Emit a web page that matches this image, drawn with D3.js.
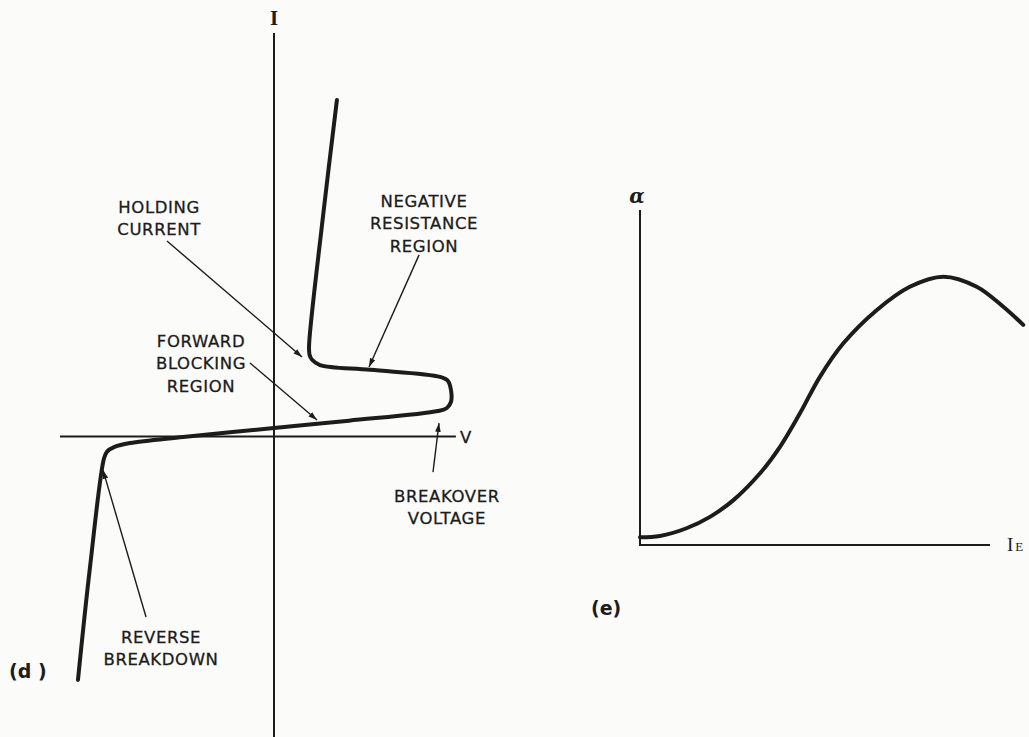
<!DOCTYPE html>
<html>
<head>
<meta charset="utf-8">
<script src="https://cdn.jsdelivr.net/npm/d3@7"></script>
<style>
  body { margin: 0; background: #fbfbfa; }
  svg { display: block; }
  .lbl { font-family: "DejaVu Sans", sans-serif; font-size: 16.5px; letter-spacing: 0.6px; fill: #1c1c1c; stroke: #1c1c1c; stroke-width: 0.3px; }
</style>
</head>
<body>
<svg id="chart"></svg>
<script>
// (d) thyristor I-V curve, V and I in arbitrary units
const thyV = [2.94, 2.3, 1.64, 1.66, 1.78, 2.15, 4.5, 7.76, 8.13, 8.27, 8.27, 8.08, 7.66, 3.5, 0, -4.25, -6.73, -7.45, -7.8, -7.94, -8.6, -9.16];
const thyI = [16.68, 11.0, 4.53, 4.05, 3.8, 3.54, 3.3, 2.95, 2.75, 2.3, 1.71, 1.41, 1.26, 0.78, 0.42, -0.03, -0.33, -0.52, -0.75, -1.07, -6.5, -12.07];

// (e) alpha vs emitter current
const ieVals = [0, 0.57, 1.33, 2.0, 2.67, 3.43, 4.0, 4.57, 5.14, 5.81, 6.76, 7.71, 8.67, 9.62, 10.38, 10.95];
const alphaVals = [0.023, 0.027, 0.05, 0.084, 0.134, 0.214, 0.293, 0.393, 0.502, 0.602, 0.701, 0.771, 0.801, 0.771, 0.711, 0.657];

// annotations on (d): label lines, label anchor, leader start -> arrow tip
const notes = [
  {lines: ["HOLDING", "CURRENT"], at: [-5.37, 11.08], from: [-5.0, 9.69], to: [1.31, 3.94]},
  {lines: ["NEGATIVE", "RESISTANCE", "REGION"], at: [7.01, 11.37], from: [6.78, 9.0], to: [4.44, 3.44]},
  {lines: ["FORWARD", "BLOCKING", "REGION"], at: [-3.41, 4.43], from: [-1.12, 3.64], to: [2.01, 0.81]},
  {lines: ["BREAKOVER", "VOLTAGE"], at: [8.08, -3.25], from: [7.43, -1.77], to: [7.71, 0.66]},
  {lines: ["REVERSE", "BREAKDOWN"], at: [-5.28, -10.24], from: [-5.98, -8.95], to: [-7.99, -1.67]}
];

const W = 1029, H = 737, ink = "#1c1c1c";
const svg = d3.select("#chart").attr("width", W).attr("height", H);

svg.append("defs").append("marker")
    .attr("id", "arrow")
    .attr("viewBox", "0 -4 10 8")
    .attr("refX", 10).attr("refY", 0)
    .attr("markerWidth", 9).attr("markerHeight", 7)
    .attr("markerUnits", "userSpaceOnUse")
    .attr("orient", "auto")
    .append("path")
    .attr("d", "M0,-3.2L10,0L0,3.2Z")
    .attr("fill", ink);

// ---------- panel (d) ----------
const xD = d3.scaleLinear().domain([-10, 10]).range([60, 488]);
const yD = d3.scaleLinear().domain([-15, 20]).range([739, 33]);

const gd = svg.append("g");

// axes
gd.append("line")
    .attr("x1", xD(0)).attr("x2", xD(0))
    .attr("y1", yD(20)).attr("y2", yD(-15))
    .attr("stroke", ink).attr("stroke-width", 2);
gd.append("line")
    .attr("x1", xD(-10)).attr("x2", xD(8.5))
    .attr("y1", yD(0)).attr("y2", yD(0))
    .attr("stroke", ink).attr("stroke-width", 2);

gd.append("text")
    .attr("x", xD(0)).attr("y", 25)
    .attr("text-anchor", "middle")
    .style("font-family", "Liberation Serif, serif").style("font-size", "21px").style("font-weight", "bold")
    .attr("fill", ink).text("I");
gd.append("text")
    .attr("x", xD(8.5) + 4).attr("y", yD(0) + 7)
    .attr("class", "lbl").text("V");

const thyData = thyV.map((v, i) => [v, thyI[i]]);
gd.append("path")
    .datum(thyData)
    .attr("fill", "none")
    .attr("stroke", ink)
    .attr("stroke-width", 4)
    .attr("stroke-linejoin", "round")
    .attr("stroke-linecap", "round")
    .attr("d", d3.line().x(d => xD(d[0])).y(d => yD(d[1])).curve(d3.curveCatmullRom.alpha(0.5)));

// leaders + labels
notes.forEach(n => {
    gd.append("line")
        .attr("x1", xD(n.from[0])).attr("y1", yD(n.from[1]))
        .attr("x2", xD(n.to[0])).attr("y2", yD(n.to[1]))
        .attr("stroke", ink).attr("stroke-width", 1.4)
        .attr("marker-end", "url(#arrow)");
    const t = gd.append("text")
        .attr("class", "lbl")
        .attr("text-anchor", "middle");
    n.lines.forEach((s, i) => {
        t.append("tspan")
            .attr("x", xD(n.at[0]))
            .attr("y", yD(n.at[1]) + i * 22.3)
            .text(s);
    });
});

gd.append("text")
    .attr("x", 9).attr("y", 678)
    .style("font-family", "DejaVu Sans, sans-serif").style("font-size", "19px").style("font-weight", "bold")
    .attr("fill", ink).text("(d )");

// ---------- panel (e) ----------
const xE = d3.scaleLinear().domain([0, 10]).range([640, 990]);
const yE = d3.scaleLinear().domain([0, 1]).range([545, 210]);

const ge = svg.append("g");
ge.append("line")
    .attr("x1", xE(0)).attr("x2", xE(0))
    .attr("y1", yE(1)).attr("y2", yE(0) + 1)
    .attr("stroke", ink).attr("stroke-width", 2);
ge.append("line")
    .attr("x1", xE(0) - 1).attr("x2", xE(10))
    .attr("y1", yE(0)).attr("y2", yE(0))
    .attr("stroke", ink).attr("stroke-width", 2);

ge.append("text")
    .attr("x", xE(0) - 3).attr("y", 203)
    .attr("text-anchor", "middle")
    .style("font-family", "DejaVu Serif, serif").style("font-size", "20px")
    .style("font-style", "italic").style("font-weight", "bold")
    .attr("fill", ink).text("α");

const ieLabel = ge.append("text")
    .attr("x", 1007).attr("y", 551)
    .style("font-family", "Liberation Serif, serif")
    .attr("fill", ink);
ieLabel.append("tspan").style("font-size", "19px").text("I");
ieLabel.append("tspan").style("font-size", "13px").attr("dx", 2).text("E");

const alphaData = ieVals.map((v, i) => [v, alphaVals[i]]);
ge.append("path")
    .datum(alphaData)
    .attr("fill", "none")
    .attr("stroke", ink)
    .attr("stroke-width", 4)
    .attr("stroke-linecap", "round")
    .attr("d", d3.line().x(d => xE(d[0])).y(d => yE(d[1])).curve(d3.curveCatmullRom.alpha(0.5)));

ge.append("text")
    .attr("x", 591).attr("y", 615)
    .style("font-family", "DejaVu Sans, sans-serif").style("font-size", "19px").style("font-weight", "bold")
    .attr("fill", ink).text("(e)");
</script>
</body>
</html>
